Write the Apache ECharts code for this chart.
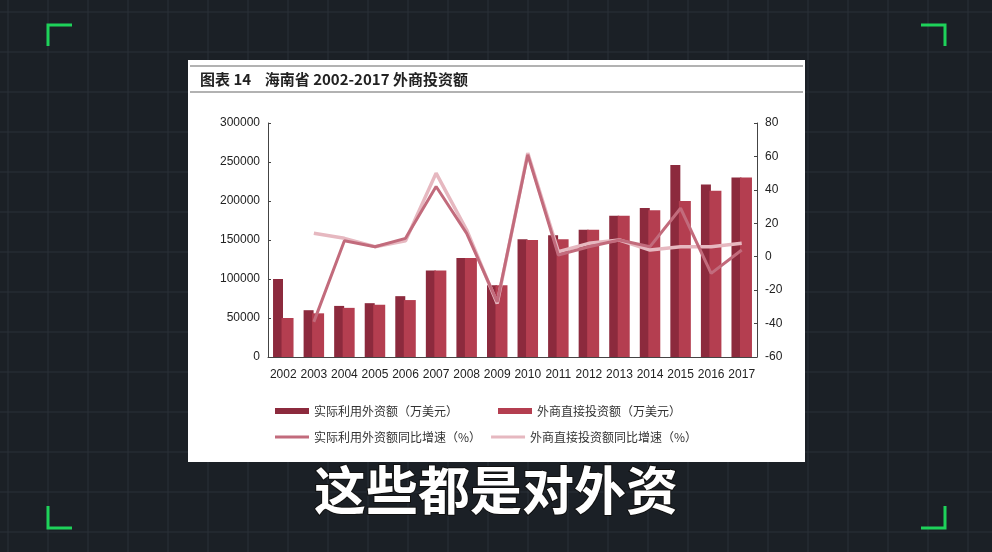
<!DOCTYPE html>
<html><head><meta charset="utf-8">
<script src="https://cdn.jsdelivr.net/npm/echarts@6/dist/echarts.min.js"></script>
<style>html,body{margin:0;padding:0;background:#1b2026}#c{width:992px;height:552px}</style>
</head><body><div id="c"></div>
<script>
const years=['2002','2003','2004','2005','2006','2007','2008','2009','2010','2011','2012','2013','2014','2015','2016','2017'];
const actualUsed=[100000,60000,65500,69000,78000,111000,127000,92000,151000,156000,163000,181000,191000,246000,221000,230000];
const directInv=[50000,56000,63000,67000,73000,111000,127000,92000,150000,151000,163000,181000,188000,200000,213000,230000];
const actualGrowth=[null,-39,9.5,6,11,42,14,-27,61,1,6,10,6,29,-10,4];
const directGrowth=[null,14,11,6,9.5,50,16,-28,62,3,8,10,4,6,6,8];
const names=['实际利用外资额（万美元）','外商直接投资额（万美元）','实际利用外资额同比增速（%）','外商直接投资额同比增速（%）'];

const g=[];
for(let x=8;x<992;x+=40)g.push({type:'line',shape:{x1:x,y1:0,x2:x,y2:552},style:{stroke:'#2a3038',lineWidth:1},z:-10});
for(let y=12;y<552;y+=40)g.push({type:'line',shape:{x1:0,y1:y,x2:992,y2:y},style:{stroke:'#2a3038',lineWidth:1},z:-10});
const br=(pts)=>({type:'polyline',shape:{points:pts},style:{stroke:'#1ed25a',lineWidth:3,fill:null},z:-5});
g.push(br([[48,46],[48,25],[72,25]]),br([[921,25],[945,25],[945,46]]),br([[48,506],[48,528],[72,528]]),br([[921,528],[945,528],[945,506]]));
g.push({type:'rect',shape:{x:188,y:60,width:617,height:402},style:{fill:'#ffffff'},z:-4});
g.push({type:'line',shape:{x1:190,y1:66,x2:803,y2:66},style:{stroke:'#999',lineWidth:1.5},z:-3});
g.push({type:'line',shape:{x1:190,y1:92,x2:803,y2:92},style:{stroke:'#999',lineWidth:1.5},z:-3});
g.push({type:'text',x:200,y:79,style:{text:'图表 14    海南省 2002-2017 外商投资额',font:'bold 15px "Noto Sans CJK SC"',fill:'#222',verticalAlign:'middle'},z:-2});
g.push({type:'text',x:496,y:490,style:{text:'这些都是对外资',font:'bold 52px "Noto Sans CJK SC"',fill:'#fff',align:'center',verticalAlign:'middle',stroke:'#111',lineWidth:2},z:50});

const chart=echarts.init(document.getElementById('c'));
const lt={fontSize:12,color:'#333',fontFamily:'Noto Sans CJK SC'};
chart.setOption({
 backgroundColor:'#1b2026',
 animation:false,
 graphic:g,
 legend:[{data:[names[0],names[1]],left:270,top:400,itemWidth:34,itemHeight:6,itemGap:40,textStyle:lt,icon:'rect'},
        {data:[names[2],names[3]],left:270,top:426,itemWidth:34,itemHeight:3,itemGap:10,textStyle:lt,icon:'rect'}],
 grid:{left:268,right:235,top:123,bottom:195},
 xAxis:{type:'category',data:years,axisTick:{show:false},axisLine:{lineStyle:{color:'#444'}},axisLabel:{color:'#222',fontSize:12,interval:0,margin:12,fontFamily:'Liberation Sans'}},
 yAxis:[{type:'value',min:0,max:300000,interval:50000,splitLine:{show:false},axisLine:{show:true,lineStyle:{color:'#444'}},axisTick:{show:true,inside:true,length:3},axisLabel:{color:'#222',fontSize:12,fontFamily:'Liberation Sans',formatter:v=>String(v)}},
        {type:'value',min:-60,max:80,interval:20,splitLine:{show:false},axisLine:{show:true,lineStyle:{color:'#444'}},axisTick:{show:true,inside:true,length:3},axisLabel:{color:'#222',fontSize:12,fontFamily:'Liberation Sans',formatter:v=>String(v)}}],
 series:[
  {name:names[0],type:'bar',data:actualUsed,barWidth:10,barGap:'-15%',itemStyle:{color:'#8c2a3d'}},
  {name:names[1],type:'bar',data:directInv,barWidth:12,itemStyle:{color:'#b43e50'}},
  {name:names[2],type:'line',yAxisIndex:1,data:actualGrowth,symbol:'none',lineStyle:{color:'#c26b7c',width:3},itemStyle:{color:'#c26b7c'},z:5},
  {name:names[3],type:'line',yAxisIndex:1,data:directGrowth,symbol:'none',lineStyle:{color:'#e6b8c0',width:3.5},itemStyle:{color:'#e6b8c0'},z:4}
 ]
});
</script></body></html>
